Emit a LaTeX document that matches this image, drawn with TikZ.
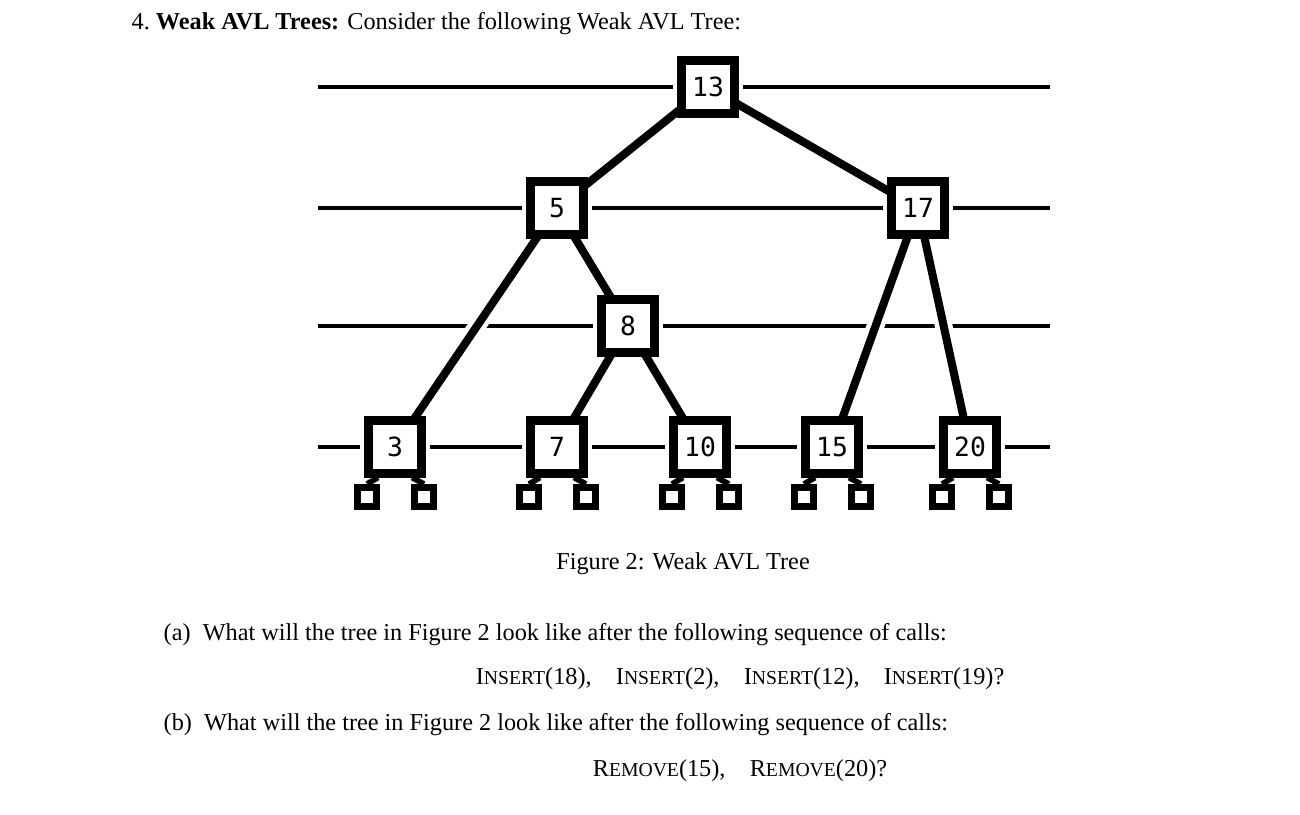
\documentclass[tikz,border=0pt]{standalone}
\usepackage{fontspec}
\setmainfont{Liberation Serif}
\newfontfamily\mono{DejaVu Sans Mono}
\newcommand{\sck}[1]{{\fontsize{5.6}{6}\selectfont #1}}
\begin{document}
\begin{tikzpicture}[x=0.01cm,y=-0.01cm,
  hl/.style={line width=1.2pt},
  halo/.style={white,line width=5pt},
  edge/.style={line width=2.3pt},
  tn/.style={draw,line width=2.3pt,minimum size=0.53cm,inner sep=0pt,fill=white,font=\mono\fontsize{7.5}{8}\selectfont},
  th/.style={draw=white,fill=white,line width=5pt,minimum size=0.53cm,inner sep=0pt},
  lf/.style={draw,line width=2pt,minimum size=0.19cm,inner sep=0pt,fill=white},
  txt/.style={font=\fontsize{6.9}{8}\selectfont,inner sep=0pt}]
\useasboundingbox (0,0) rectangle (1300,814);
\foreach \y in {87,208,326,447} \draw[hl] (318,\y) -- (1050,\y);
\coordinate (n13) at (708,87);
\coordinate (n5) at (557,208);
\coordinate (n17) at (918,208);
\coordinate (n8) at (628,326);
\coordinate (n3) at (395,447);
\coordinate (n7) at (557,447);
\coordinate (n10) at (700,447);
\coordinate (n15) at (832,447);
\coordinate (n20) at (970,447);
\foreach \a/\b in {n13/n5,n13/n17,n5/n3,n5/n8,n8/n7,n8/n10,n17/n15,n17/n20}
  \draw[halo] (\a) -- (\b);
\foreach \n in {n13,n5,n17,n8,n3,n7,n10,n15,n20}
  \node[th] (h\n) at (\n) {};
\foreach \a/\b in {n13/n5,n13/n17,n5/n3,n5/n8,n8/n7,n8/n10,n17/n15,n17/n20}
  \draw[edge] (\a) -- (\b);
\foreach \n/\t in {n13/13,n5/5,n17/17,n8/8,n3/3,n7/7,n10/10,n15/15,n20/20}
  \node[tn] (b\n) at (\n) {\t};
\foreach \n in {n3,n7,n10,n15,n20}{
  \node[lf] (\n L) at ([xshift=-0.28cm,yshift=-0.5cm]\n) {};
  \node[lf] (\n R) at ([xshift=0.29cm,yshift=-0.5cm]\n) {};
  \draw[line width=1.6pt] ([xshift=-0.17cm]b\n.south) -- (\n L.north);
  \draw[line width=1.6pt] ([xshift=0.17cm]b\n.south) -- (\n R.north);}
\node[txt,anchor=base west] (t0) at (131,29) {4.\ \textbf{Weak AVL Trees:} Consider the following Weak AVL Tree:};
\node[txt,anchor=base] (cap) at (683,569) {Figure 2: Weak AVL Tree};
\node[txt,anchor=base west] (qa) at (163,640) {(a)\ \ What will the tree in Figure 2 look like after the following sequence of calls:};
\node[txt,anchor=base east] (ins) at (1005,684) {I\sck{NSERT}(18),\quad I\sck{NSERT}(2),\quad I\sck{NSERT}(12),\quad I\sck{NSERT}(19)?};
\node[txt,anchor=base west] (qb) at (163,730) {(b)\ \ What will the tree in Figure 2 look like after the following sequence of calls:};
\node[txt,anchor=base] (rem) at (740,776) {R\sck{EMOVE}(15),\quad R\sck{EMOVE}(20)?};
\end{tikzpicture}
\end{document}
